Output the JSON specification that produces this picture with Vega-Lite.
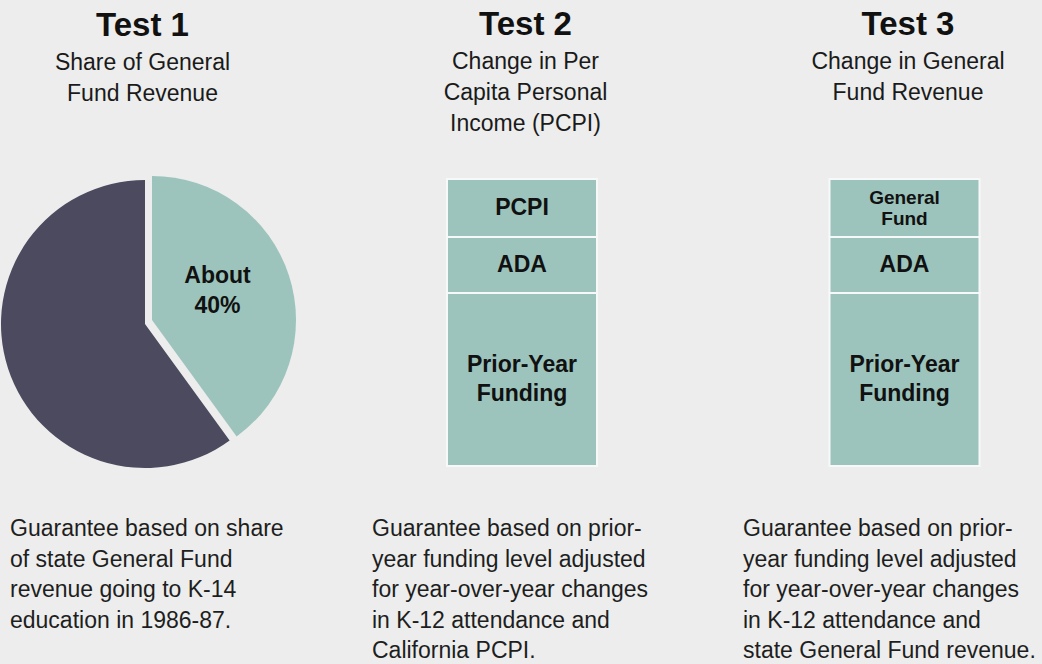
{
  "$schema": "https://vega.github.io/schema/vega-lite/v6.json",
  "background": "#ecedec",
  "padding": {"left": 0, "right": 0, "top": 9, "bottom": 2},
  "columns": 3,
  "spacing": {"row": 67, "column": 82},
  "bounds": "flush",
  "align": "each",
  "config": {
    "view": {"stroke": null},
    "font": "Liberation Sans",
    "text": {"font": "Liberation Sans"},
    "title": {
      "font": "Liberation Sans", "fontSize": 33, "fontWeight": "bold", "color": "#111111",
      "subtitleFont": "Liberation Sans", "subtitleFontSize": 23, "subtitleColor": "#1a1a1a",
      "subtitleLineHeight": 31, "subtitlePadding": 9, "anchor": "middle"
    }
  },
  "concat": [
    {
      "width": 290, "height": 290,
      "title": {"text": "Test 1", "subtitle": ["Share of General", "Fund Revenue"], "offset": 70, "dx": -2.5},
      "data": {"values": [
        {"part": "K-14 education", "share": 40, "ord": 1, "label": "About\n40%"},
        {"part": "Rest of General Fund", "share": 60, "ord": 2, "label": ""}
      ]},
      "encoding": {
        "theta": {"field": "share", "type": "quantitative", "stack": true},
        "order": {"field": "ord", "type": "quantitative"}
      },
      "layer": [
        {"mark": {"type": "arc", "radius": 144, "fill": "#4b4a5e"},
         "encoding": {"opacity": {"condition": {"test": "datum.ord == 1", "value": 0}, "value": 1}}},
        {"mark": {"type": "arc", "radius": 144, "fill": "#9cc4bc", "xOffset": 7, "yOffset": -4},
         "encoding": {"opacity": {"condition": {"test": "datum.ord == 1", "value": 1}, "value": 0}}},
        {"mark": {"type": "text", "radius": 72, "xOffset": 7, "yOffset": -4, "dx": -3, "dy": -22, "fontSize": 23, "fontWeight": "bold", "lineBreak": "\n", "lineHeight": 30, "baseline": "middle", "align": "center", "color": "#111111"},
         "encoding": {"text": {"field": "label"}}}
      ]
    },
    {
      "width": 300, "height": 287,
      "title": {"text": "Test 2", "subtitle": ["Change in Per", "Capita Personal", "Income (PCPI)"], "offset": 42, "dx": 3.5},
      "data": {"values": [
        {"test": "Test 2", "key": "pcpi", "label": "PCPI", "value": 58, "ord": 3},
        {"test": "Test 2", "key": "ada", "label": "ADA", "value": 56, "ord": 2},
        {"test": "Test 2", "key": "prior", "label": "Prior-Year\nFunding", "value": 173, "ord": 1}
      ]},
      "encoding": {
        "x": {"field": "test", "type": "nominal", "axis": null},
        "y": {"field": "value", "type": "quantitative", "stack": "zero", "axis": null, "scale": {"domain": [0, 287], "nice": false}},
        "order": {"field": "ord", "type": "quantitative"},
        "detail": {"field": "key"}
      },
      "layer": [
        {"mark": {"type": "bar", "width": 150, "fill": "#9cc4bc", "stroke": "#f7f9f8", "strokeWidth": 2}},
        {"mark": {"type": "text", "fontSize": 23, "fontWeight": "bold", "baseline": "middle", "color": "#111111"},
         "encoding": {
           "text": {"field": "label", "condition": {"test": "datum.key == 'prior'", "value": ""}},
           "y": {"field": "value", "type": "quantitative", "stack": "zero", "bandPosition": 0.5, "axis": null}
         }},
        {"mark": {"type": "text", "dy": -14.5, "fontSize": 23, "fontWeight": "bold", "lineBreak": "\n", "lineHeight": 29, "baseline": "middle", "color": "#111111"},
         "encoding": {
           "text": {"field": "label", "condition": {"test": "datum.key != 'prior'", "value": ""}},
           "y": {"field": "value", "type": "quantitative", "stack": "zero", "bandPosition": 0.5, "axis": null}
         }}
      ]
    },
    {
      "width": 288, "height": 287,
      "title": {"text": "Test 3", "subtitle": ["Change in General", "Fund Revenue"], "offset": 73, "dx": 10},
      "data": {"values": [
        {"test": "Test 3", "key": "gf", "label": "General\nFund", "value": 58, "ord": 3},
        {"test": "Test 3", "key": "ada", "label": "ADA", "value": 56, "ord": 2},
        {"test": "Test 3", "key": "prior", "label": "Prior-Year\nFunding", "value": 173, "ord": 1}
      ]},
      "encoding": {
        "x": {"field": "test", "type": "nominal", "axis": null},
        "y": {"field": "value", "type": "quantitative", "stack": "zero", "axis": null, "scale": {"domain": [0, 287], "nice": false}},
        "order": {"field": "ord", "type": "quantitative"},
        "detail": {"field": "key"}
      },
      "layer": [
        {"mark": {"type": "bar", "width": 150, "xOffset": 6.5, "fill": "#9cc4bc", "stroke": "#f7f9f8", "strokeWidth": 2}},
        {"mark": {"type": "text", "xOffset": 6.5, "fontSize": 23, "fontWeight": "bold", "baseline": "middle", "color": "#111111"},
         "encoding": {
           "text": {"field": "label", "condition": {"test": "datum.key != 'ada'", "value": ""}},
           "y": {"field": "value", "type": "quantitative", "stack": "zero", "bandPosition": 0.5, "axis": null}
         }},
        {"mark": {"type": "text", "xOffset": 6.5, "dy": -14.5, "fontSize": 23, "fontWeight": "bold", "lineBreak": "\n", "lineHeight": 29, "baseline": "middle", "color": "#111111"},
         "encoding": {
           "text": {"field": "label", "condition": {"test": "datum.key != 'prior'", "value": ""}},
           "y": {"field": "value", "type": "quantitative", "stack": "zero", "bandPosition": 0.5, "axis": null}
         }},
        {"mark": {"type": "text", "xOffset": 6.5, "dy": -10.5, "fontSize": 19, "fontWeight": "bold", "lineBreak": "\n", "lineHeight": 21, "baseline": "middle", "color": "#111111"},
         "encoding": {
           "text": {"field": "label", "condition": {"test": "datum.key != 'gf'", "value": ""}},
           "y": {"field": "value", "type": "quantitative", "stack": "zero", "bandPosition": 0.5, "axis": null}
         }}
      ]
    },
    {
      "width": 290, "height": 122,
      "data": {"values": [
        {"test": "Test 1", "line": 1, "text": "Guarantee based on share"},
        {"test": "Test 1", "line": 2, "text": "of state General Fund"},
        {"test": "Test 1", "line": 3, "text": "revenue going to K-14"},
        {"test": "Test 1", "line": 4, "text": "education in 1986-87."}
      ]},
      "mark": {"type": "text", "align": "left", "baseline": "alphabetic", "fontSize": 23, "dx": 10, "color": "#1e1e1e"},
      "encoding": {
        "x": {"field": "test", "type": "nominal", "axis": null, "bandPosition": 0, "scale": {"type": "band", "paddingInner": 0, "paddingOuter": 0}},
        "y": {"field": "line", "type": "ordinal", "axis": null, "scale": {"type": "point", "padding": 0, "domain": [1, 2, 3, 4, 5]}},
        "text": {"field": "text"}
      }
    },
    {
      "width": 300, "height": 122,
      "data": {"values": [
        {"test": "Test 2", "line": 1, "text": "Guarantee based on prior-"},
        {"test": "Test 2", "line": 2, "text": "year funding level adjusted"},
        {"test": "Test 2", "line": 3, "text": "for year-over-year changes"},
        {"test": "Test 2", "line": 4, "text": "in K-12 attendance and"},
        {"test": "Test 2", "line": 5, "text": "California PCPI."}
      ]},
      "mark": {"type": "text", "align": "left", "baseline": "alphabetic", "fontSize": 23, "dx": 0, "color": "#1e1e1e"},
      "encoding": {
        "x": {"field": "test", "type": "nominal", "axis": null, "bandPosition": 0, "scale": {"type": "band", "paddingInner": 0, "paddingOuter": 0}},
        "y": {"field": "line", "type": "ordinal", "axis": null, "scale": {"type": "point", "padding": 0, "domain": [1, 2, 3, 4, 5]}},
        "text": {"field": "text"}
      }
    },
    {
      "width": 288, "height": 122,
      "data": {"values": [
        {"test": "Test 3", "line": 1, "text": "Guarantee based on prior-"},
        {"test": "Test 3", "line": 2, "text": "year funding level adjusted"},
        {"test": "Test 3", "line": 3, "text": "for year-over-year changes"},
        {"test": "Test 3", "line": 4, "text": "in K-12 attendance and"},
        {"test": "Test 3", "line": 5, "text": "state General Fund revenue."}
      ]},
      "mark": {"type": "text", "align": "left", "baseline": "alphabetic", "fontSize": 23, "dx": -11, "color": "#1e1e1e"},
      "encoding": {
        "x": {"field": "test", "type": "nominal", "axis": null, "bandPosition": 0, "scale": {"type": "band", "paddingInner": 0, "paddingOuter": 0}},
        "y": {"field": "line", "type": "ordinal", "axis": null, "scale": {"type": "point", "padding": 0, "domain": [1, 2, 3, 4, 5]}},
        "text": {"field": "text"}
      }
    }
  ]
}
